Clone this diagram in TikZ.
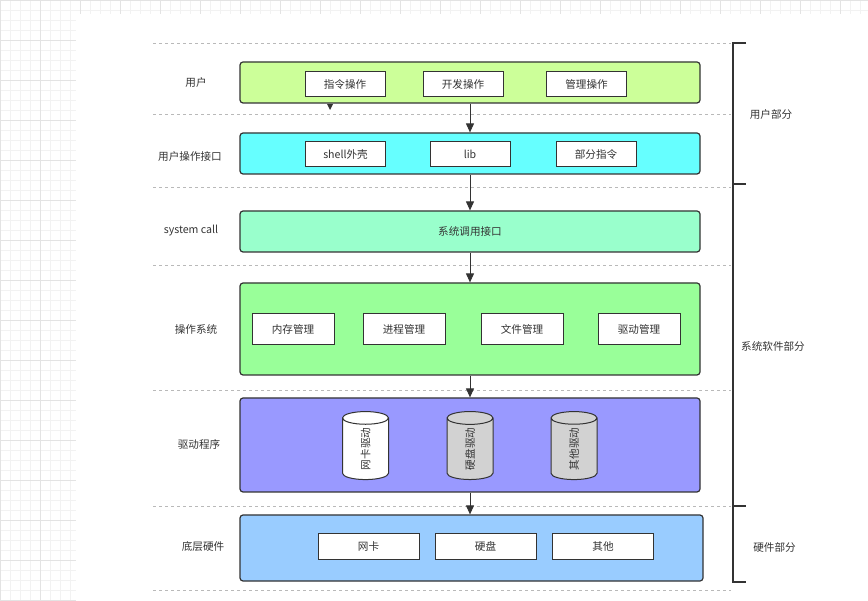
\documentclass[tikz,border=0pt]{standalone}
\usepackage{fontspec}
\setmainfont{Noto Sans CJK SC}
\usepackage{xcolor}
\usetikzlibrary{arrows.meta,shapes.geometric}

\definecolor{ink}{HTML}{333333}
\definecolor{usrgreen}{HTML}{CCFF99}
\definecolor{ifcyan}{HTML}{66FFFF}
\definecolor{scmint}{HTML}{99FFCC}
\definecolor{osgreen}{HTML}{99FF99}
\definecolor{drvblue}{HTML}{9999FF}
\definecolor{hwblue}{HTML}{99CCFF}

\begin{document}
\begin{tikzpicture}[x=1pt,y=-1pt,font=\fontsize{10.6}{12}\selectfont,text=ink,
  >={Triangle[length=9pt,width=8pt]},
  row/.style={draw=ink,line width=1.2pt,rounded corners=3pt,minimum width=460pt,inner sep=0pt},
  item/.style={draw=ink,line width=1pt,fill=white,inner sep=0pt,minimum width=80pt,minimum height=25pt},
  tank/.style={cylinder,draw=ink,line width=1pt,rotate=90,aspect=1.3,minimum height=68pt,minimum width=46pt,inner sep=0pt},
  lbl/.style={align=center},
  divider/.style={gray!55,dashed,line width=0.8pt}]
  \useasboundingbox (0,0) rectangle (868,601);
  % background grid
  \draw[gray!10,step=10pt] (0,0) grid (76,601);
  \draw[gray!10,step=10pt] (0,0) grid (868,14);
  \draw[gray!22,step=40pt] (0,0) grid (76,601);
  \draw[gray!22,step=40pt] (0,0) grid (868,14);
  \fill[white] (77,15) rectangle (868,601);
  % layer separators
  \foreach \y in {43,114,187,265,390,506,590} \draw[divider] (153,\y) -- (731,\y);
  % layers
  \node[row,fill=usrgreen,minimum height=41pt] (usr) at (470,82.5) {};
  \node[row,fill=ifcyan,minimum height=41pt] (ui) at (470,153.5) {};
  \node[row,fill=scmint,minimum height=41pt] (sc) at (470,231.5) {系统调用接口};
  \node[row,fill=osgreen,minimum height=92pt] (os) at (470,329) {};
  \node[row,fill=drvblue,minimum height=94pt] (drv) at (470,445) {};
  \node[row,fill=hwblue,minimum height=66pt,minimum width=463pt] (hw) at (471.5,548) {};
  % user layer
  \node[item] (cmd) at (345,84.5) {指令操作};
  \node[item] (dev) at (463,84.5) {开发操作};
  \node[item] (mgr) at (586.5,84.5) {管理操作};
  \node[item] (sh) at (345.5,154.5) {shell外壳};
  \node[item] (lib) at (470,154.5) {lib};
  \node[item] (part) at (596,154.5) {部分指令};
  % kernel
  \node[item,minimum width=82pt,minimum height=31pt] (mem) at (293,329.5) {内存管理};
  \node[item,minimum width=82pt,minimum height=31pt] (proc) at (404,329.5) {进程管理};
  \node[item,minimum width=82pt,minimum height=31pt] (file) at (522,329.5) {文件管理};
  \node[item,minimum width=82pt,minimum height=31pt] (dmgr) at (639,329.5) {驱动管理};
  % drivers
  \node[tank,fill=white] (nic) at (365.5,449) {网卡驱动};
  \node[tank,fill=gray!35] (disk) at (470,449) {硬盘驱动};
  \node[tank,fill=gray!35] (misc) at (574,449) {其他驱动};
  % hardware
  \node[item,minimum width=101pt,minimum height=26pt] (card) at (368.5,546) {网卡};
  \node[item,minimum width=101pt,minimum height=26pt] (hdd) at (485.5,546) {硬盘};
  \node[item,minimum width=101pt,minimum height=26pt] (oth) at (603,546) {其他};
  % left labels
  \node[lbl] (l1) at (196,82) {用户};
  \node[lbl] (l2) at (190,156) {用户操作接口};
  \node[lbl] (l3) at (191,231) {system call};
  \node[lbl] (l4) at (196,329) {操作系统};
  \node[lbl] (l5) at (199,444) {驱动程序};
  \node[lbl] (l6) at (203,547) {底层硬件};
  % flow
  \draw[->,ink,line width=1pt] (usr) -- (ui);
  \draw[->,ink,line width=1pt] (ui) -- (sc);
  \draw[->,ink,line width=1pt] (sc) -- (os);
  \draw[->,ink,line width=1pt] (os) -- (drv);
  \draw[->,ink,line width=1pt] (drv.south) -- (drv.south |- hw.north);
  \fill[ink] (327,104) -- (333,104) -- (330,110) -- cycle;
  % right bracket
  \draw[ink,line width=1.4pt] (746,43) -- (733,43) -- (733,582) -- (746,582);
  \draw[ink,line width=1.4pt] (733,184) -- (746,184);
  \draw[ink,line width=1.4pt] (733,506) -- (746,506);
  \node[lbl] (g1) at (771,114) {用户部分};
  \node[lbl] (g2) at (773,346) {系统软件部分};
  \node[lbl] (g3) at (774.5,547) {硬件部分};
\end{tikzpicture}
\end{document}
